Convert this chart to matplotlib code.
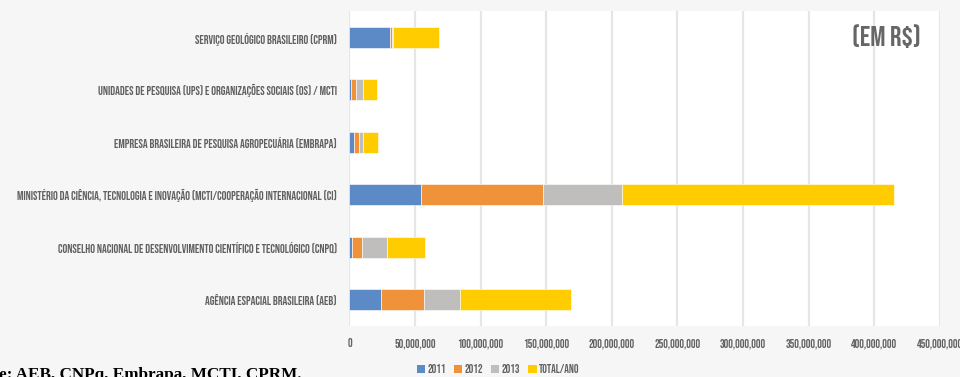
import matplotlib
matplotlib.use("Agg")
import matplotlib.pyplot as plt
from matplotlib.patches import Patch
from matplotlib.ticker import FuncFormatter, MultipleLocator

# Investments by institution (R$)
categories = [
    "AGÊNCIA ESPACIAL BRASILEIRA (AEB)",
    "CONSELHO NACIONAL DE DESENVOLVIMENTO CIENTÍFICO E TECNOLÓGICO (CNPQ)",
    "MINISTÉRIO DA CIÊNCIA, TECNOLOGIA E INOVAÇÃO (MCTI/COOPERAÇÃO INTERNACIONAL (CI)",
    "EMPRESA BRASILEIRA DE PESQUISA AGROPECUÁRIA (EMBRAPA)",
    "UNIDADES DE PESQUISA (UPS) E ORGANIZAÇÕES SOCIAIS (OS) / MCTI",
    "SERVIÇO GEOLÓGICO BRASILEIRO (CPRM)",
]
v2011 = [23_900_000, 2_300_000, 54_500_000, 3_300_000, 1_000_000, 31_200_000]
v2012 = [32_800_000, 6_900_000, 93_400_000, 4_100_000, 4_300_000, 1_000_000]
v2013 = [27_200_000, 19_300_000, 59_800_000, 3_300_000, 5_300_000, 1_300_000]
total = [84_600_000, 29_300_000, 207_200_000, 11_400_000, 10_400_000, 34_500_000]

series = [("2011", v2011, "#5B8AC6"),
          ("2012", v2012, "#F0923A"),
          ("2013", v2013, "#BFBEBC"),
          ("TOTAL/ANO", total, "#FFCC00")]

condensed = ["Bebas Neue", "Oswald", "Roboto Condensed",
             "IBM Plex Sans Condensed", "DejaVu Sans"]
text_gray = "#606060"

fig = plt.figure(figsize=(9.6, 3.77), dpi=100, facecolor="#f6f6f6")
ax = fig.add_axes([0.364, 0.1353, 0.615, 0.8355], facecolor="white")

ypos = list(range(len(categories)))
left = [0.0] * len(categories)
for name, vals, color in series:
    ax.barh(ypos, vals, left=left, height=0.4, color=color,
            edgecolor="white", linewidth=0.4, label=name, zorder=3)
    left = [l + v for l, v in zip(left, vals)]

ax.set_xlim(0, 450_000_000)
ax.set_ylim(-0.5, len(categories) - 0.5)
ax.xaxis.set_major_locator(MultipleLocator(50_000_000))
ax.xaxis.set_major_formatter(FuncFormatter(lambda x, p: f"{int(x):,}"))
ax.grid(axis="x", color="#e6e6e6", linewidth=1.6, zorder=0)
for s in ax.spines.values():
    s.set_visible(False)

ax.set_yticks(ypos)
ax.set_yticklabels(categories, family=condensed, fontsize=8.6, color=text_gray)
for lbl in ax.get_xticklabels():
    lbl.set_family(condensed)
    lbl.set_fontsize(8.4)
    lbl.set_color(text_gray)
ax.tick_params(axis="y", length=0, pad=9)
ax.tick_params(axis="x", length=0, pad=9)

handles = [Patch(facecolor=c, edgecolor="none", label=n) for n, _, c in series]
fig.legend(handles=handles, loc="center", bbox_to_anchor=(0.519, 0.022),
           ncol=4, frameon=False, handlelength=0.7, handleheight=0.7,
           handletextpad=0.2, columnspacing=0.7,
           prop={"family": condensed, "size": 8.4}, labelcolor=text_gray)

fig.text(0.923, 0.905, "(EM R$)", family=condensed, fontsize=20.5,
         fontweight="bold", color="#666666", ha="center", va="center")

fig.text(-0.036, -0.005, "Fonte: AEB, CNPq, Embrapa, MCTI, CPRM.",
         family=["Liberation Serif", "DejaVu Serif"], fontsize=12.3,
         fontweight="bold", color="black", ha="left", va="baseline")

fig.savefig("out.png", dpi=100, facecolor=fig.get_facecolor())
